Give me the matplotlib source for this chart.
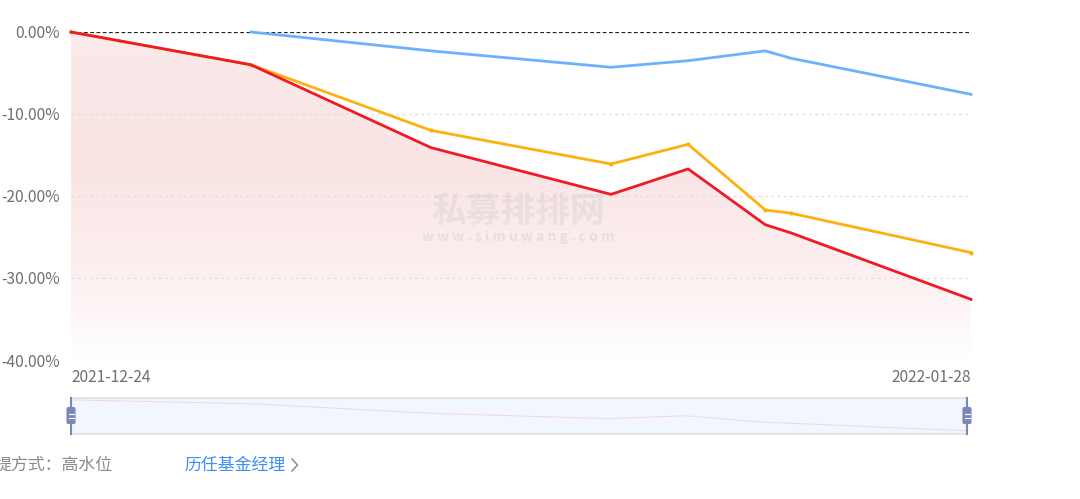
import matplotlib.pyplot as plt
import numpy as np
import pandas as pd
from matplotlib.colors import LinearSegmentedColormap
from matplotlib.patches import FancyBboxPatch

plt.rcParams['font.family'] = ['Noto Sans CJK SC', 'DejaVu Sans']

dates = ['2021-12-24', '2021-12-31', '2022-01-07', '2022-01-14',
         '2022-01-17', '2022-01-20', '2022-01-21', '2022-01-28']
red_vals = [0.0, -4.0, -14.1, -19.8, -16.7, -23.5, -24.5, -32.6]
orange_vals = [0.0, -4.0, -12.0, -16.1, -13.7, -21.7, -22.1, -26.9]
# blue series starts one week later
blue_dates = dates[1:]
blue_vals = [0.0, -2.3, -4.3, -3.5, -2.3, -3.2, -7.6]
y_ticks = [0, -10, -20, -30, -40]

d0 = pd.Timestamp(dates[0])
x = np.array([(pd.Timestamp(d) - d0).days for d in dates], dtype=float)
xb = np.array([(pd.Timestamp(d) - d0).days for d in blue_dates], dtype=float)
x_end = x[-1]

W, H = 1080, 499
fig = plt.figure(figsize=(W / 100, H / 100), dpi=100)


def px_axes(l, t, r, b):
    return fig.add_axes([l / W, 1 - b / H, (r - l) / W, (b - t) / H])


ax = px_axes(71, 32, 971, 360)
ax.set_xlim(0, x_end)
ax.set_ylim(-40, 0)
for s in ax.spines.values():
    s.set_visible(False)
ax.set_xticks([])
ax.set_yticks(y_ticks)
ax.set_yticklabels([f'{v:.2f}%' for v in y_ticks], color='#6e6e6e', fontsize=11.2)
ax.tick_params(axis='y', length=0, pad=8)
for v in y_ticks[1:]:
    ax.axhline(v, color='#dddddd', lw=0.9, ls=(0, (2, 3)), zorder=1)
ax.axhline(0, color='#222222', lw=0.9, ls=(0, (3, 2)), zorder=2)

# gradient area under red line
cmap = LinearSegmentedColormap.from_list(
    'fade', [(0, '#ffffff'), (0.25, '#fcf0f0'), (0.6, '#fae4e4'), (1.0, '#fbeaea')])
grad = np.linspace(0, 1, 256).reshape(-1, 1)
im = ax.imshow(grad, extent=[0, x_end, -40, 0], origin='lower', aspect='auto',
               cmap=cmap, zorder=0)
poly = ax.fill_between(x, red_vals, -40, color='none', lw=0)
im.set_clip_path(poly.get_paths()[0], transform=ax.transData)

ax.plot(xb, blue_vals, color='#6cb1fb', lw=2, zorder=4, clip_on=False)
ax.plot(x, orange_vals, color='#fdb10f', lw=2, zorder=5, clip_on=False,
        marker='o', ms=2)
ax.plot(x, red_vals, color='#ef1a26', lw=2, zorder=6, clip_on=False)

ax.text(0, -42.1, dates[0], ha='left', va='center', fontsize=11.2, color='#6e6e6e')
ax.text(x_end, -42.1, dates[-1], ha='right', va='center', fontsize=11.2, color='#6e6e6e')

# watermark
ax.text(x_end * 0.497, -21.8, '私募排排网', ha='center', va='center', fontsize=25,
        color='#b8b8b8', alpha=0.22, fontweight='bold', zorder=3)
ax.text(x_end * 0.497, -25.0, 'w w w . s i m u w a n g . c o m', ha='center', va='center',
        fontsize=10, color='#b8b8b8', alpha=0.28, fontweight='bold', zorder=3)

# slider (data zoom)
sax = px_axes(71, 398, 967, 434)
sax.set_xlim(0, x_end)
sax.set_ylim(-36, 2)
sax.set_xticks([])
sax.set_yticks([])
sax.set_facecolor('#f2f6fd')
for k in ['left', 'right']:
    sax.spines[k].set_visible(False)
for k in ['top', 'bottom']:
    sax.spines[k].set_color('#dcdfe6')
    sax.spines[k].set_linewidth(1.2)
sax.plot(x, red_vals, color='#f0d8de', lw=0.7)

hax = fig.add_axes([0, 0, 1, 1])
hax.set_xlim(0, W)
hax.set_ylim(H, 0)
hax.axis('off')
hax.patch.set_alpha(0)
for hx in [71, 967]:
    hax.plot([hx, hx], [398, 434], color='#7d86b8', lw=1.5)
    hax.add_patch(FancyBboxPatch((hx - 4, 407.5), 8, 16,
                                 boxstyle='round,pad=0,rounding_size=1.5',
                                 fc='#7d86b8', ec='#7d86b8', lw=0.8))
    hax.plot([hx - 2.5, hx + 2.5], [413.5, 413.5], color='white', lw=0.8)
    hax.plot([hx - 2.5, hx + 2.5], [418, 418], color='white', lw=0.8)

hax.text(-6, 465, '提方式：高水位', ha='left', va='center', fontsize=12.2, color='#8a8a8a')
hax.text(184, 465, '历任基金经理', ha='left', va='center', fontsize=12.2, color='#3d8ff2')
hax.plot([292, 297.5, 292], [459, 465, 471], color='#8a8a8a', lw=1.1)

fig.savefig('out.png', dpi=100)
